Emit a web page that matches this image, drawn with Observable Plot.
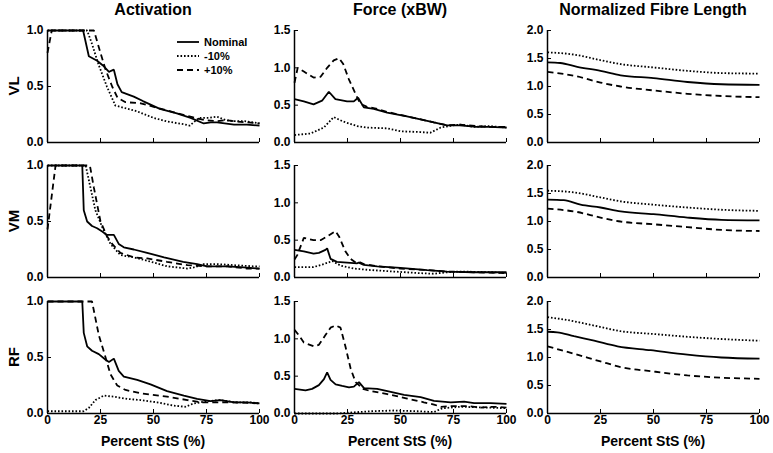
<!DOCTYPE html>
<html><head><meta charset="utf-8">
<script src="https://cdn.jsdelivr.net/npm/d3@7"></script>
<script src="https://cdn.jsdelivr.net/npm/@observablehq/plot@0.6"></script>
<style>
body{margin:0;background:#fff;}
#chart{position:relative;width:773px;height:453px;font-family:"Liberation Sans",Arial,sans-serif;font-weight:bold;color:#000;overflow:hidden;background:#fff}
.t{position:absolute;white-space:nowrap;font-weight:bold;line-height:1}
.p{position:absolute}
</style></head><body><div id="chart"></div>
<script>
// ---------- categories / labels ----------
const columnTitles = ["Activation", "Force (xBW)", "Normalized Fibre Length"];
const muscles = ["VL", "VM", "RF"];
const seriesNames = ["Nominal", "-10%", "+10%"];
const xTicks = [0, 25, 50, 75, 100];
const yMaxByColumn = [1.0, 1.5, 2.0];
const xLabel = "Percent StS (%)";

// ---------- data: [percent StS, value] ----------
// VL
const act_VL_nominal = [[0,1],[16.8,1],[19.5,0.77],[23.4,0.73],[26,0.69],[29,0.63],[30,0.64],[31.3,0.65],[33,0.52],[35,0.45],[40.7,0.41],[45,0.37],[53,0.3],[61,0.26],[67.5,0.22],[73.7,0.17],[77,0.18],[80,0.18],[88,0.16],[94,0.16],[100,0.15]];
const act_VL_minus10 = [[0,1],[18.7,1],[21,0.88],[24,0.7],[28,0.5],[32,0.33],[36,0.31],[42,0.28],[50,0.22],[56,0.19],[65,0.16],[67,0.15],[71.5,0.22],[76,0.22],[80,0.23],[84,0.2],[88,0.19],[93,0.19],[97,0.18],[100,0.17]];
const act_VL_plus10 = [[0,0.8],[2,1],[21.9,1],[25,0.8],[27.4,0.65],[30.5,0.5],[33,0.4],[36.8,0.36],[44,0.35],[51.7,0.31],[59.6,0.27],[67.5,0.23],[74,0.2],[80,0.19],[84,0.2],[88,0.19],[94,0.18],[100,0.17]];
const force_VL_nominal = [[0,0.58],[4.4,0.55],[9,0.51],[13,0.56],[16.2,0.68],[19.3,0.58],[24.8,0.55],[28,0.55],[30,0.6],[32.7,0.47],[37.4,0.45],[43.7,0.4],[53,0.35],[61,0.3],[65.7,0.27],[72,0.23],[78,0.23],[86,0.21],[92,0.21],[100,0.2]];
const force_VL_minus10 = [[0,0.1],[7.5,0.12],[13.8,0.2],[18.5,0.34],[23,0.28],[29.5,0.22],[34,0.2],[43.7,0.19],[50,0.15],[59.4,0.14],[64,0.13],[69,0.2],[75,0.23],[78,0.24],[84.6,0.21],[92,0.22],[100,0.2]];
const force_VL_plus10 = [[0,0.8],[1.5,1.0],[4.4,0.95],[9,0.87],[12.3,0.88],[15.4,1.0],[18.5,1.1],[21,1.13],[23,1.05],[25.6,0.85],[28.8,0.65],[31,0.52],[34,0.48],[39,0.45],[43.7,0.41],[53,0.35],[61,0.3],[65.7,0.27],[72,0.23],[78,0.24],[86,0.22],[92,0.21],[100,0.21]];
const len_VL_nominal = [[0,1.43],[6,1.42],[14,1.35],[25,1.28],[34.5,1.2],[50,1.15],[66,1.08],[82,1.04],[100,1.03]];
const len_VL_minus10 = [[0,1.61],[12.5,1.57],[25,1.47],[34.5,1.4],[50,1.34],[66,1.28],[82,1.24],[100,1.23]];
const len_VL_plus10 = [[0,1.26],[14,1.18],[25,1.07],[34.5,1.0],[50,0.93],[66,0.87],[82,0.83],[100,0.81]];
// VM
const act_VM_nominal = [[0,1],[16.4,1],[17.1,0.6],[18.7,0.5],[21,0.46],[23.4,0.44],[25.8,0.41],[28,0.38],[31.3,0.38],[33.6,0.3],[36,0.27],[40.7,0.25],[47,0.22],[55,0.18],[64,0.14],[70.6,0.12],[75.3,0.1],[84.7,0.1],[92.6,0.09],[100,0.08]];
const act_VM_minus10 = [[0,1],[18,1],[20.3,0.8],[22.6,0.6],[25.8,0.45],[29.7,0.3],[34.4,0.2],[40.7,0.18],[47,0.15],[56.4,0.1],[65.9,0.08],[69,0.09],[73.7,0.12],[80,0.12],[88,0.11],[97,0.1],[100,0.1]];
const act_VM_plus10 = [[0,0.43],[3.8,1],[20,1],[21.9,0.8],[25,0.5],[28,0.37],[30.5,0.3],[34.4,0.22],[40.7,0.18],[47,0.17],[56.4,0.14],[66,0.11],[75,0.1],[85,0.1],[94,0.08],[100,0.08]];
const force_VM_nominal = [[0,0.37],[4.4,0.35],[9,0.32],[11.5,0.33],[14.6,0.37],[15.4,0.39],[17,0.25],[20,0.21],[24.8,0.2],[29.6,0.19],[30.3,0.2],[32.7,0.17],[39,0.15],[50,0.13],[62.6,0.1],[72,0.08],[84.6,0.07],[100,0.07]];
const force_VM_minus10 = [[0,0.14],[9,0.14],[13.8,0.18],[17.8,0.22],[21.7,0.16],[28,0.12],[35.8,0.1],[46.9,0.08],[57.9,0.06],[65.7,0.05],[72,0.07],[78,0.08],[94,0.07],[100,0.06]];
const force_VM_plus10 = [[0,0.24],[1.3,0.3],[4.4,0.53],[9,0.5],[12.3,0.5],[15.4,0.55],[19.3,0.62],[21,0.55],[24,0.35],[26.4,0.25],[28.8,0.2],[30.3,0.21],[32.7,0.18],[39,0.15],[50,0.12],[62.6,0.1],[72,0.08],[84.6,0.07],[100,0.06]];
const len_VM_nominal = [[0,1.39],[7.7,1.38],[15.6,1.3],[25,1.25],[34.5,1.18],[50,1.13],[66,1.07],[82,1.03],[100,1.02]];
const len_VM_minus10 = [[0,1.55],[12.5,1.52],[25,1.43],[34.5,1.36],[50,1.3],[66,1.25],[82,1.21],[100,1.19]];
const len_VM_plus10 = [[0,1.23],[14,1.17],[25,1.07],[34.5,1.0],[50,0.95],[66,0.9],[82,0.85],[100,0.83]];
// RF
const act_RF_nominal = [[0,1],[16.4,1],[17.1,0.72],[18.7,0.6],[21,0.56],[24.2,0.53],[27.4,0.48],[29,0.46],[31.3,0.49],[33.6,0.38],[36,0.33],[42.3,0.3],[48.6,0.26],[56.4,0.2],[64.3,0.16],[70.6,0.13],[76.9,0.11],[81.6,0.12],[88,0.1],[94,0.1],[100,0.09]];
const act_RF_minus10 = [[0,0.02],[17,0.02],[19.5,0.05],[22.6,0.12],[26.6,0.16],[31.3,0.15],[37.6,0.13],[43.9,0.12],[51.7,0.1],[59.6,0.07],[65,0.06],[69,0.09],[75.3,0.11],[81.6,0.12],[88,0.1],[95.8,0.1],[100,0.09]];
const act_RF_plus10 = [[0,1],[21,1],[24.2,0.7],[27.4,0.5],[29.7,0.35],[32.9,0.25],[36.8,0.21],[43.9,0.18],[56.4,0.15],[66,0.12],[72,0.1],[80,0.1],[88,0.1],[100,0.09]];
const force_RF_nominal = [[0,0.33],[5.2,0.31],[8.3,0.33],[11.5,0.38],[13.9,0.46],[15.4,0.55],[17,0.45],[19.4,0.39],[22.5,0.37],[25.7,0.35],[28,0.36],[30.4,0.42],[32.8,0.34],[39,0.33],[43.8,0.3],[51.7,0.25],[59.5,0.22],[65.8,0.17],[73.7,0.15],[80,0.16],[84.7,0.14],[92.6,0.14],[100,0.13]];
const force_RF_minus10 = [[0,0],[20,0],[25,0.01],[36,0.03],[47,0.04],[58,0.03],[65.8,0.02],[69.8,0.07],[78,0.09],[91,0.08],[100,0.07]];
const force_RF_plus10 = [[0,1.12],[2,1.05],[4.4,0.95],[9.1,0.9],[11.5,0.92],[14.6,1.05],[17,1.15],[19.4,1.18],[21.7,1.15],[24,0.9],[26.5,0.6],[28.8,0.42],[30.4,0.38],[32,0.33],[36,0.3],[43.8,0.26],[53.2,0.2],[61,0.15],[65.8,0.12],[69,0.09],[75.3,0.1],[81.6,0.1],[87.9,0.08],[94,0.09],[100,0.08]];
const len_RF_nominal = [[0,1.46],[4.6,1.45],[12.5,1.38],[22,1.3],[33,1.2],[48.7,1.13],[66,1.05],[82,1.0],[100,0.98]];
const len_RF_minus10 = [[0,1.72],[7.7,1.68],[22,1.57],[34.5,1.47],[50,1.42],[66,1.37],[82,1.33],[100,1.3]];
const len_RF_plus10 = [[0,1.2],[14,1.05],[25,0.93],[34.5,0.83],[50,0.75],[66,0.68],[82,0.64],[100,0.62]];

const panels = [
  [[act_VL_nominal, act_VL_minus10, act_VL_plus10],[force_VL_nominal, force_VL_minus10, force_VL_plus10],[len_VL_nominal, len_VL_minus10, len_VL_plus10]],
  [[act_VM_nominal, act_VM_minus10, act_VM_plus10],[force_VM_nominal, force_VM_minus10, force_VM_plus10],[len_VM_nominal, len_VM_minus10, len_VM_plus10]],
  [[act_RF_nominal, act_RF_minus10, act_RF_plus10],[force_RF_nominal, force_RF_minus10, force_RF_plus10],[len_RF_nominal, len_RF_minus10, len_RF_plus10]]
];

// ---------- layout / style ----------
const FONT = '"Liberation Sans", Arial, sans-serif';
const colLeft = [47, 294, 547], rowTop = [30, 165, 301], pw = 212, ph = 112;
const dash = [null, "1.6,1.9", "6,4"];
const root = document.getElementById("chart");

function addText(txt, x, y, size, extra = "") {
  const d = document.createElement("div");
  d.className = "t";
  d.textContent = txt;
  d.style.cssText = `left:${x}px;top:${y}px;font-size:${size}px;transform:translate(-50%,-50%) ${extra};`;
  root.appendChild(d);
  return d;
}

for (let r = 0; r < 3; r++) {
  for (let c = 0; c < 3; c++) {
    const yMax = yMaxByColumn[c];
    const yTicks = d3.range(0, yMax + 0.001, 0.5);
    const last = r === 2;
    const mL = 44, mR = 14, mT = 10, mB = last ? 24 : 6;
    const marks = [
      Plot.axisY({ticks: yTicks, tickSize: -4, tickPadding: 8, tickFormat: d3.format(".1f"), label: null, fontSize: 12}),
      Plot.axisX({ticks: xTicks, tickSize: -4, tickPadding: 6, tickFormat: last ? (d => String(d)) : (() => ""), label: null, fontSize: 12}),
      Plot.ruleX([0], {strokeWidth: 1.5}),
      Plot.ruleY([0], {strokeWidth: 1.5})
    ];
    panels[r][c].forEach((s, i) => {
      marks.push(Plot.line(s, {x: d => d[0], y: d => d[1], stroke: "#000", strokeWidth: 1.8,
        strokeLinecap: "butt", strokeLinejoin: "miter",
        strokeDasharray: dash[i], curve: c === 2 ? "monotone-x" : "linear"}));
    });
    const svg = Plot.plot({
      width: pw + mL + mR, height: ph + mT + mB,
      marginLeft: mL, marginRight: mR, marginTop: mT, marginBottom: mB,
      x: {domain: [0, 100]}, y: {domain: [0, yMax]},
      style: {fontFamily: FONT, fontWeight: "bold", fontSize: "12px", background: "transparent", color: "#000", overflow: "visible"},
      marks
    });
    svg.classList.add("p");
    svg.style.left = (colLeft[c] - mL) + "px";
    svg.style.top = (rowTop[r] - mT) + "px";
    root.appendChild(svg);
  }
  addText(muscles[r], 13, rowTop[r] + ph / 2, 15, "rotate(-90deg)");
}
for (let c = 0; c < 3; c++) {
  addText(columnTitles[c], colLeft[c] + pw / 2, 10, 16);
  addText(xLabel, colLeft[c] + pw / 2, 441, 14);
}

// legend
const ns = "http://www.w3.org/2000/svg";
const leg = document.createElementNS(ns, "svg");
leg.setAttribute("width", 100); leg.setAttribute("height", 50);
leg.style.cssText = "position:absolute;left:170px;top:32px;overflow:visible";
seriesNames.forEach((name, i) => {
  const y = 10 + i * 14;
  const l = document.createElementNS(ns, "line");
  l.setAttribute("x1", 7); l.setAttribute("x2", 29); l.setAttribute("y1", y); l.setAttribute("y2", y);
  l.setAttribute("stroke", "#000"); l.setAttribute("stroke-width", 1.8);
  if (dash[i]) l.setAttribute("stroke-dasharray", dash[i]);
  leg.appendChild(l);
  const t = document.createElementNS(ns, "text");
  t.setAttribute("x", 34); t.setAttribute("y", y); t.setAttribute("dy", "0.35em");
  t.setAttribute("font-size", 11); t.setAttribute("font-weight", "bold"); t.setAttribute("font-family", FONT);
  t.textContent = name;
  leg.appendChild(t);
});
root.appendChild(leg);
</script>
</body></html>
